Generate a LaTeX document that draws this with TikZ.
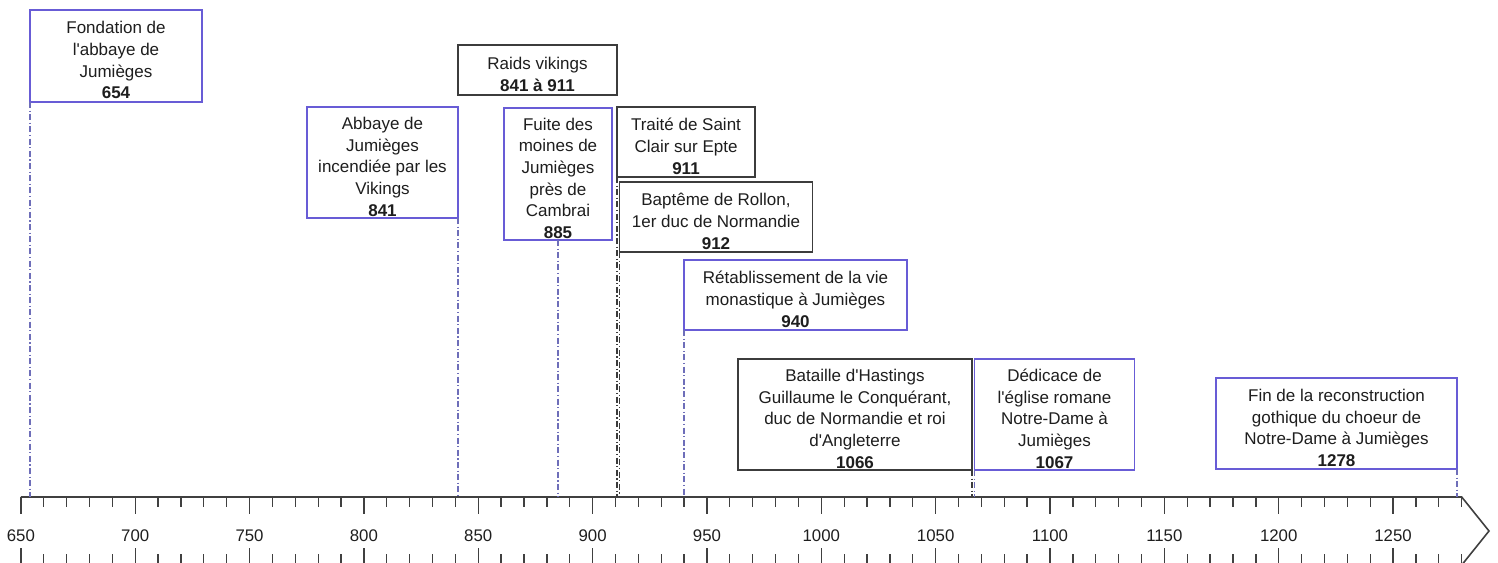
\documentclass[tikz,border=0pt]{standalone}
\usepackage{fontspec}
\setmainfont{Liberation Sans}
\definecolor{evblue}{RGB}{104,92,214}
\definecolor{evgray}{RGB}{60,60,60}
\definecolor{txtcol}{RGB}{30,30,30}
\definecolor{lnblue}{RGB}{110,110,185}
\definecolor{axcol}{RGB}{64,64,64}
\newcommand{\ap}{\textquotesingle}
\newcommand{\sh}{\rule{0pt}{21pt}}
\begin{document}
\begin{tikzpicture}[x=1pt,y=-1pt,
  evbox/.style={draw, fill=white, anchor=north west, inner sep=0pt, outer sep=0pt,
    align=center, text=txtcol, font=\fontsize{17}{21.7}\selectfont},
  bluebox/.style={evbox, draw=evblue, line width=1.6pt},
  graybox/.style={evbox, draw=evgray, line width=1.3pt},
  conn/.style={line width=1.3pt, dash pattern=on 6pt off 2.5pt on 1.2pt off 2.5pt},
  connblue/.style={conn, draw=lnblue},
  conngray/.style={conn, draw=evgray},
  axisline/.style={draw=axcol, line width=1.6pt},
  ticks/.style={draw=axcol, line width=1.3pt},
  axlabel/.style={anchor=base, text=txtcol, font=\fontsize{16.8}{20}\selectfont, inner sep=0pt}
]
\useasboundingbox (0,0) rectangle (1498,562);
\begin{scope}
\clip (0,0) rectangle (1498,562);
% axis
\draw[axisline, line join=miter] (20.85,497) -- (1461.7,497) -- (1489,531) -- (1461.7,565);
\foreach \yr in {650,660,...,1280}{
  \draw[ticks] ({2.287*\yr-1465.7},497) -- ++(0,10);
  \draw[ticks] ({2.287*\yr-1465.7},565) -- ++(0,-11);
}
\foreach \yr in {650,700,...,1250}{
  \draw[ticks] ({2.287*\yr-1465.7},497) -- ++(0,17);
  \draw[ticks] ({2.287*\yr-1465.7},565) -- ++(0,-17);
  \node[axlabel] at ({2.287*\yr-1465.7},541.7) {\yr};
}
% axis anchor points
\coordinate (a654) at (30,497);
\coordinate (a841) at (458,497);
\coordinate (a885) at (558,497);
\coordinate (a911) at (617,497);
\coordinate (a912) at (619.5,497);
\coordinate (a940) at (684,497);
\coordinate (a1066) at (972,497);
\coordinate (a1067) at (974.5,497);
\coordinate (a1278) at (1457,497);
% events
\node[bluebox, minimum width=172pt, minimum height=92pt] (fond) at (30,10)
  {\sh Fondation de\\l\ap abbaye de\\Jumièges\\\textbf{654}};
\node[graybox, minimum width=159pt, minimum height=50pt] (raids) at (458,45)
  {\sh Raids vikings\\\textbf{841 à 911}};
\node[bluebox, minimum width=151pt, minimum height=111pt] (abb) at (307,107)
  {\sh Abbaye de\\Jumièges\\incendiée par les\\Vikings\\\textbf{841}};
\node[bluebox, minimum width=108pt, minimum height=132pt] (fuite) at (504,108)
  {\sh Fuite des\\moines de\\Jumièges\\près de\\Cambrai\\\textbf{885}};
\node[graybox, minimum width=138pt, minimum height=70pt] (traite) at (617,107)
  {\sh Traité de Saint\\Clair sur Epte\\\textbf{911}};
\node[graybox, minimum width=193pt, minimum height=70pt] (bapt) at (619.5,182)
  {\sh Baptême de Rollon,\\1er duc de Normandie\\\textbf{912}};
\node[bluebox, minimum width=223pt, minimum height=70pt] (retab) at (684,260)
  {\sh Rétablissement de la vie\\monastique à Jumièges\\\textbf{940}};
\node[graybox, minimum width=234pt, minimum height=111pt] (bat) at (738,359)
  {\sh Bataille d\ap Hastings\\Guillaume le Conquérant,\\duc de Normandie et roi\\d\ap Angleterre\\\textbf{1066}};
\node[bluebox, minimum width=160pt, minimum height=111pt] (dedi) at (974.5,359)
  {\sh Dédicace de\\l\ap église romane\\Notre-Dame à\\Jumièges\\\textbf{1067}};
\node[bluebox, minimum width=241pt, minimum height=91pt] (fin) at (1216,378)
  {\sh Fin de la reconstruction\\gothique du choeur de\\Notre-Dame à Jumièges\\\textbf{1278}};
% connectors
\draw[connblue] (fond.south west) -- (a654);
\draw[connblue] (abb.south east) -- (a841);
\draw[connblue] (fuite.south) -- (a885);
\draw[conngray] (traite.south west) -- (a911);
\draw[conngray] (bapt.south west) -- (a912);
\draw[connblue] (retab.south west) -- (a940);
\draw[conngray] (bat.south east) -- (a1066);
\draw[connblue] (dedi.south west) -- (a1067);
\draw[connblue] (fin.south east) -- (a1278);
\end{scope}
\end{tikzpicture}
\end{document}
